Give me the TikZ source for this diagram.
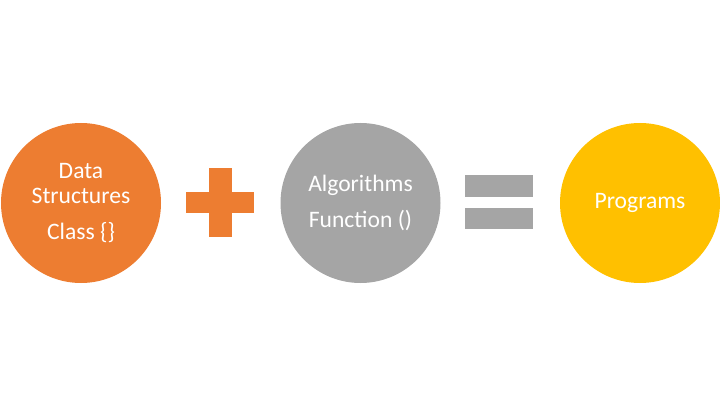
\documentclass[tikz,border=0pt]{standalone}
\usepackage{fontspec}
\setmainfont{Carlito}
\usepackage{xcolor}
\usetikzlibrary{positioning}
\definecolor{officeorange}{RGB}{237,125,49}
\definecolor{officegray}{RGB}{165,165,165}
\definecolor{officegold}{RGB}{255,192,0}

\begin{document}
\begin{tikzpicture}[x=1pt, y=1pt,
  disc/.style={circle, minimum size=160pt, inner sep=0pt, align=center,
               text=white, font=\fontsize{23.6}{25}\selectfont},
  bar/.style={rectangle, inner sep=0pt}
]
  \useasboundingbox (0,0) rectangle (720,405);

  \node[disc, fill=officeorange] (ds)   at (81,202)    {Data\\Structures\\[11pt]Class \{\}};
  \node[disc, fill=officegray]   (algo) at (360.5,202) {Algorithms\\[11pt]Function ()};
  \node[disc, fill=officegold]   (prog) at (640,202)   {Programs};

  % plus sign
  \node[bar, fill=officeorange, minimum width=68pt, minimum height=21pt] (plush) at (220,202.5) {};
  \node[bar, fill=officeorange, minimum width=23pt, minimum height=69pt] (plusv) at (220,202.5) {};

  % equals sign
  \node[bar, fill=officegray, minimum width=68pt, minimum height=22pt] (eqtop) at (499,219) {};
  \node[bar, fill=officegray, minimum width=68pt, minimum height=21pt, below=11pt of eqtop] (eqbot) {};
\end{tikzpicture}
\end{document}
